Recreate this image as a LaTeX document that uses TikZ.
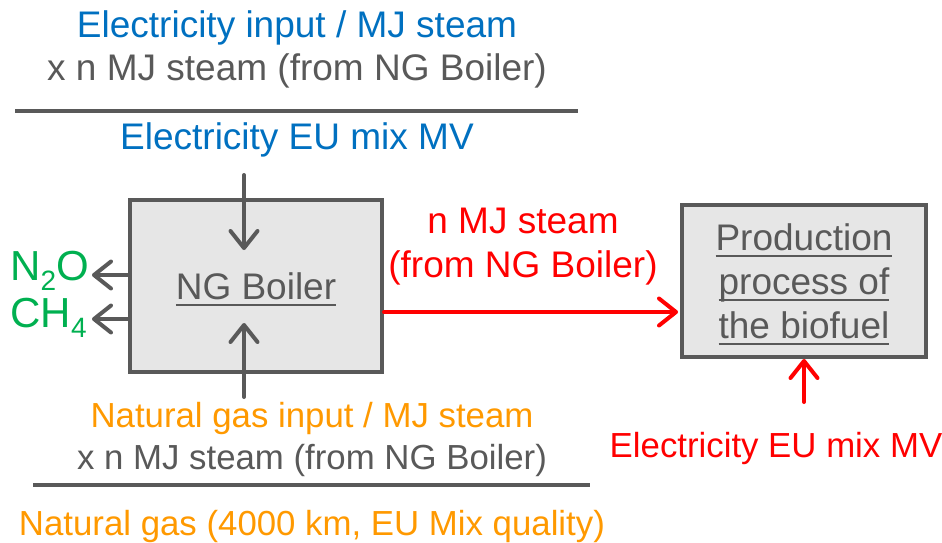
\documentclass[tikz,border=0pt]{standalone}
\usepackage{fontspec}
\setmainfont{Liberation Sans}
\usetikzlibrary{arrows.meta}
\definecolor{cblue}{RGB}{0,112,192}
\definecolor{cgray}{RGB}{89,89,89}
\definecolor{corange}{RGB}{255,153,0}
\definecolor{cred}{RGB}{255,0,0}
\definecolor{cgreen}{RGB}{0,176,80}
\definecolor{cfill}{RGB}{230,230,230}
\newcommand\ulx[1]{\setbox0\hbox{#1}\rlap{\rule[-6.5pt]{\wd0}{2.5pt}}\box0}
\begin{document}
\begin{tikzpicture}[x=1pt,y=1pt,
  txt/.style={font=\fontsize{37}{44}\selectfont, inner sep=0pt, anchor=base},
  stxt/.style={font=\fontsize{34.8}{42}\selectfont, inner sep=0pt, anchor=base},
  gtxt/.style={font=\fontsize{42}{48}\selectfont, inner sep=0pt, anchor=base east, text=cgreen},
  box/.style={draw=cgray, fill=cfill, line width=4pt, inner sep=0pt, text=cgray,
    font=\fontsize{37}{44}\selectfont, align=center},
  arr/.style={line width=4pt, line cap=round, -{Straight Barb[length=17pt,width=27pt,round]}},
  rulel/.style={line width=4pt, draw=cgray}]
\useasboundingbox (0,0) rectangle (942,-542);

% top fraction
\node[txt, text=cblue] (t1) at (297,-37) {Electricity input / MJ steam};
\node[txt, text=cgray] (t2) at (297,-80) {x n MJ steam (from NG Boiler)};
\coordinate (r1a) at (15,-111);
\coordinate (r1b) at (578,-111);
\draw[rulel] (r1a) -- (r1b);
\node[txt, text=cblue] (t3) at (297,-149) {Electricity EU mix MV};

% boxes
\node[box, minimum width=252pt, minimum height=172pt] (boiler) at (256,-286) {\rule{0pt}{34pt}\ulx{NG Boiler}};
\node[box, minimum width=244pt, minimum height=152pt] (prod) at (804,-281)
  {\rule{0pt}{34pt}\ulx{Production}\\\ulx{process of}\\\ulx{the biofuel}};

% arrows into boiler
\coordinate (ein) at (244,-175);
\coordinate (eint) at (244,-250);
\draw[arr, cgray] (ein) -- (eint);
\coordinate (ngin) at (244,-397);
\coordinate (ngint) at (244,-323);
\draw[arr, cgray] (ngin) -- (ngint);

% emissions
\coordinate (n2oT) at (92,-275);
\coordinate (ch4T) at (92,-319);
\draw[arr, cgray] (boiler.west |- n2oT) -- (n2oT);
\draw[arr, cgray] (boiler.west |- ch4T) -- (ch4T);
\node[gtxt] (n2o) at (89,-280) {N\raisebox{-10pt}{\fontsize{28}{28}\selectfont 2}O};
\node[gtxt] (ch4) at (87,-327) {CH\raisebox{-10pt}{\fontsize{28}{28}\selectfont 4}};

% steam
\coordinate (steamrow) at (0,-312);
\draw[arr, cred] (boiler.east |- steamrow) -- ([xshift=-2pt]prod.west |- steamrow);
\node[txt, text=cred] (s1) at (523,-233) {n MJ steam};
\node[txt, text=cred] (s2) at (523,-277) {(from NG Boiler)};

% electricity into production
\coordinate (el2) at (804,-402);
\draw[arr, cred] (el2) -- (prod.south);
\node[stxt, text=cred] (el2t) at (776,-457) {Electricity EU mix MV};

% bottom fraction
\node[stxt, text=corange] (b1) at (312,-427) {Natural gas input / MJ steam};
\node[stxt, text=cgray] (b2) at (312,-469) {x n MJ steam (from NG Boiler)};
\coordinate (r2a) at (33,-485);
\coordinate (r2b) at (590,-485);
\draw[rulel] (r2a) -- (r2b);
\node[stxt, text=corange] (b3) at (312,-535) {Natural gas (4000 km, EU Mix quality)};
\end{tikzpicture}
\end{document}
